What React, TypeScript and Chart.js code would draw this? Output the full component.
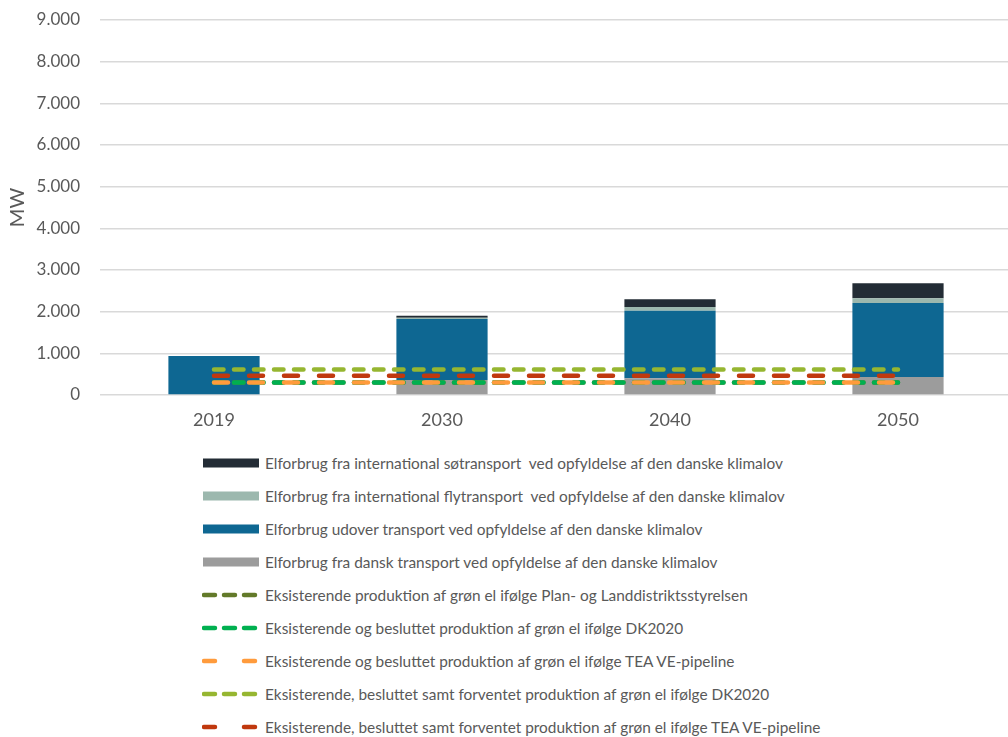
import React, { useEffect, useRef } from "react";
import { Chart, registerables } from "chart.js";

Chart.register(...registerables);

// Categories (years)
const years = ["2019", "2030", "2040", "2050"];

// Stacked electricity consumption (MW)
const danskTransport = [0, 360, 400, 430];
const udoverTransport = [936, 1465, 1620, 1780];
const flyTransport = [0, 30, 90, 110];
const soeTransport = [0, 45, 190, 360];

// Green production levels (MW)
const planLandProduktion = [300, 300, 300, 300];
const dk2020Besluttet = [300, 300, 300, 300];
const teaBesluttet = [300, 300, 300, 300];
const dk2020Forventet = [615, 615, 615, 615];
const teaForventet = [460, 460, 460, 460];

// Y axis ticks
const yTicks = [0, 1000, 2000, 3000, 4000, 5000, 6000, 7000, 8000, 9000];

const FONT = "Lato";
const TEXT = "#595959";

const C_SOE = "#232c35";
const C_FLY = "#9cb8ae";
const C_UDOVER = "#0e6792";
const C_DANSK = "#9c9c9c";
const C_OLIVE = "#637a2a";
const C_GREEN = "#00b050";
const C_ORANGE = "#ff9b3c";
const C_LGREEN = "#96b631";
const C_RED = "#c0380e";

const SHORT_DASH = [9.5, 10.5];
const LONG_DASH = [14, 21];

type LegendItem = { label: string; color: string; kind: "bar" | "short" | "long" };

const legendItems: LegendItem[] = [
  { label: "Elforbrug fra international søtransport  ved opfyldelse af den danske klimalov", color: C_SOE, kind: "bar" },
  { label: "Elforbrug fra international flytransport  ved opfyldelse af den danske klimalov", color: C_FLY, kind: "bar" },
  { label: "Elforbrug udover transport ved opfyldelse af den danske klimalov", color: C_UDOVER, kind: "bar" },
  { label: "Elforbrug fra dansk transport ved opfyldelse af den danske klimalov", color: C_DANSK, kind: "bar" },
  { label: "Eksisterende produktion af grøn el ifølge Plan- og Landdistriktsstyrelsen", color: C_OLIVE, kind: "short" },
  { label: "Eksisterende og besluttet produktion af grøn el ifølge DK2020", color: C_GREEN, kind: "short" },
  { label: "Eksisterende og besluttet produktion af grøn el ifølge TEA VE-pipeline", color: C_ORANGE, kind: "long" },
  { label: "Eksisterende, besluttet samt forventet produktion af grøn el ifølge DK2020", color: C_LGREEN, kind: "short" },
  { label: "Eksisterende, besluttet samt forventet produktion af grøn el ifølge TEA VE-pipeline", color: C_RED, kind: "long" },
];

const formatThousands = (v: number) =>
  String(Math.round(v)).replace(/\B(?=(\d{3})+(?!\d))/g, ".");

function Swatch({ item }: { item: LegendItem }) {
  if (item.kind === "bar") {
    return (
      <svg width={58} height={12} style={{ display: "block" }}>
        <rect x={1} y={1.5} width={56} height={9} fill={item.color} />
      </svg>
    );
  }
  const dash = item.kind === "short" ? "11 9" : "11 29";
  return (
    <svg width={58} height={12} style={{ display: "block" }}>
      <line
        x1={0}
        y1={6}
        x2={56}
        y2={6}
        stroke={item.color}
        strokeWidth={4.5}
        strokeLinecap="round"
        strokeDasharray={dash}
        strokeDashoffset={-2}
      />
    </svg>
  );
}

export default function App() {
  const canvasRef = useRef<HTMLCanvasElement | null>(null);

  useEffect(() => {
    if (!canvasRef.current) return;
    const lineDs = (label: string, data: number[], color: string, dash: number[], order: number) => ({
      type: "line" as const,
      label,
      data,
      borderColor: color,
      backgroundColor: color,
      borderWidth: 4.5,
      borderDash: dash,
      borderCapStyle: "round" as const,
      pointRadius: 0,
      pointHoverRadius: 0,
      fill: false,
      tension: 0,
      order,
      stack: "lines-" + label,
    });

    const chart = new Chart(canvasRef.current, {
      type: "bar",
      data: {
        labels: years,
        datasets: [
          { type: "bar", label: "dansk", data: danskTransport, backgroundColor: C_DANSK, stack: "s", order: 10 },
          { type: "bar", label: "udover", data: udoverTransport, backgroundColor: C_UDOVER, stack: "s", order: 10 },
          { type: "bar", label: "fly", data: flyTransport, backgroundColor: C_FLY, stack: "s", order: 10 },
          { type: "bar", label: "soe", data: soeTransport, backgroundColor: C_SOE, stack: "s", order: 10 },
          lineDs("plan", planLandProduktion, C_OLIVE, SHORT_DASH, 5),
          lineDs("dk2020b", dk2020Besluttet, C_GREEN, SHORT_DASH, 2),
          lineDs("teab", teaBesluttet, C_ORANGE, LONG_DASH, 1),
          lineDs("dk2020f", dk2020Forventet, C_LGREEN, SHORT_DASH, 4),
          lineDs("teaf", teaForventet, C_RED, LONG_DASH, 3),
        ] as any,
      },
      options: {
        responsive: false,
        animation: false,
        events: [],
        layout: { padding: { top: 20, left: 0, right: 0, bottom: 0 } },
        datasets: {
          bar: { barPercentage: 0.4, categoryPercentage: 1 },
        },
        plugins: {
          legend: { display: false },
          tooltip: { enabled: false },
        },
        scales: {
          x: {
            stacked: true,
            grid: { display: false, drawTicks: false },
            border: { display: false },
            ticks: {
              color: TEXT,
              font: { family: FONT, size: 18 },
              padding: 14,
            },
            afterFit: (scale: any) => {
              scale.height = 45;
            },
          },
          y: {
            stacked: true,
            min: 0,
            max: 9000,
            afterBuildTicks: (scale: any) => {
              scale.ticks = yTicks.map((v) => ({ value: v }));
            },
            grid: { color: "#d9d9d9", lineWidth: 1.5, drawTicks: false },
            border: { display: false },
            ticks: {
              color: TEXT,
              font: { family: FONT, size: 17 },
              padding: 20,
              callback: (v: any) => formatThousands(Number(v)),
            },
            title: {
              display: true,
              text: "MW",
              color: TEXT,
              font: { family: FONT, size: 20 },
              padding: { top: 6, bottom: 0 },
            },
            afterFit: (scale: any) => {
              scale.width = 100;
              scale.paddingTop = 0;
              scale.paddingBottom = 0;
            },
          },
        },
      },
    } as any);
    return () => chart.destroy();
  }, []);

  return (
    <div
      style={{
        position: "absolute",
        left: 0,
        top: 0,
        width: 1008,
        height: 737,
        overflow: "hidden",
        background: "#ffffff",
        fontFamily: FONT,
      }}
    >
      <canvas ref={canvasRef} width={1012} height={440} style={{ position: "absolute", left: 0, top: 0 }} />
      {legendItems.map((item, i) => (
        <div
          key={item.label}
          style={{
            position: "absolute",
            left: 202,
            top: 463 + i * 33 - 10,
            height: 20,
            display: "flex",
            alignItems: "center",
            whiteSpace: "pre",
          }}
        >
          <Swatch item={item} />
          <span style={{ marginLeft: 5, fontSize: 15.4, color: TEXT, lineHeight: "20px" }}>{item.label}</span>
        </div>
      ))}
    </div>
  );
}
